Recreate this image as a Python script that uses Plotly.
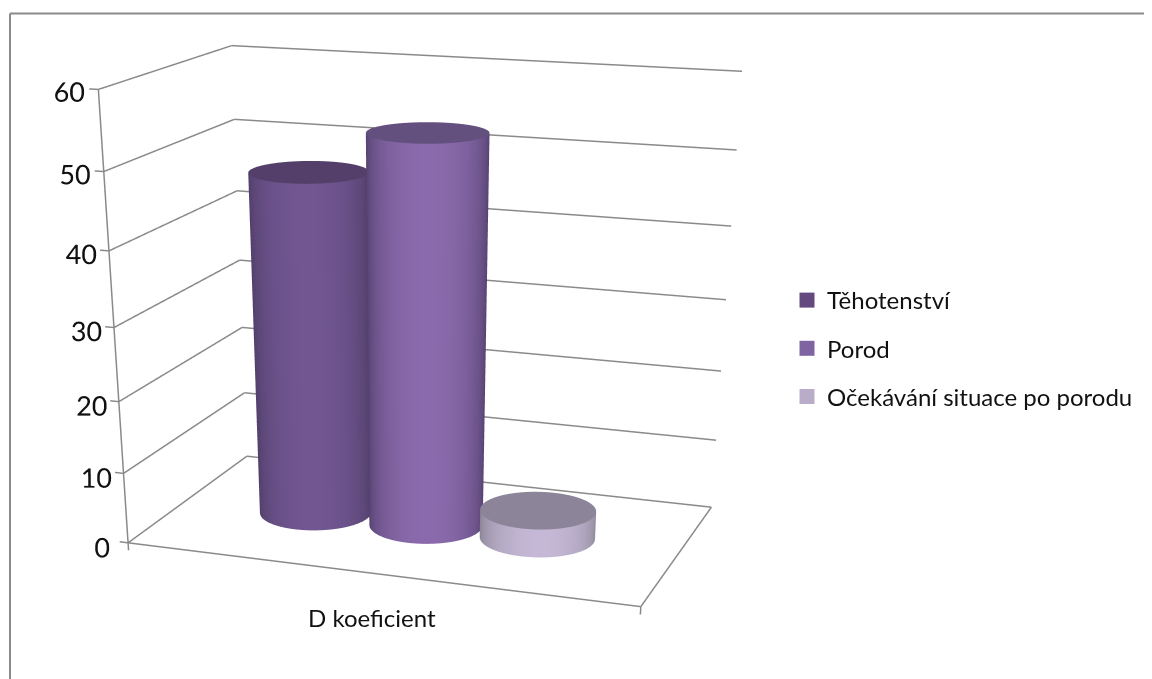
import numpy as np
import plotly.graph_objects as go

series = ["Těhotenství", "Porod", "Očekávání situace po porodu"]
values = [47.5, 53.5, 4]
slots = [1.08, 2, 2.9]
category = "D koeficient"
z_ticks = [0, 10, 20, 30, 40, 50, 60]
legend_colors = ["#65497E", "#8064A2", "#B9ACC9"]
edge_colors = ["#4A3A62", "#4E3C68", "#85808F"]
mid_colors = ["#715691", "#8A6AAC", "#C4B8D6"]
cap_colors = ["#533F69", "#63507F", "#8C8498"]

GRAY = "#8A8A8A"
FIG_W, FIG_H = 1144, 1800
SCENE_W = 800
XMAX, ZMAX = 4.0, 60.0
XPAD, XPAD2, ZPAD, ZPAD2 = 0.14, 0.02, 1.1, 0.5
TICK = 0.07
AY, AZ = 0.5735, 0.815
eye0 = np.array([1.3133, -3.8309, 0.9927])
cen0 = np.array([0.1451, -0.5169, -0.9615])
box_shift = np.array([(XPAD2 - XPAD) / 2 / XMAX, 0.0, (ZPAD2 - ZPAD) / 2 / ZMAX * AZ])
eye = eye0 - box_shift
cen = cen0 - box_shift
RX = 0.44
RY = RX / XMAX / AY

fig = go.Figure()
seg_x, seg_y, seg_z = [], [], []
def seg(a, b):
    seg_x.extend([a[0], b[0], None]); seg_y.extend([a[1], b[1], None]); seg_z.extend([a[2], b[2], None])
for z in z_ticks:
    seg((0, 0, z), (0, 1, z))
    seg((0, 1, z), (XMAX, 1, z))
    seg((-TICK, 0, z), (0, 0, z))
seg((0, 0, 0), (0, 0, ZMAX))
seg((0, 0, 0), (XMAX, 0, 0))
seg((XMAX, 0, 0), (XMAX, 1, 0))
seg((0, 0, -ZPAD), (0, 0, 0))
seg((XMAX, 0, -ZPAD), (XMAX, 0, 0))
fig.add_trace(go.Scatter3d(x=seg_x, y=seg_y, z=seg_z, mode="lines", showlegend=False, hoverinfo="skip",
                           line=dict(color=GRAY, width=3)))

th = np.linspace(0, 2 * np.pi, 121)
th0 = np.arctan2(eye0[1] - cen0[1], eye0[0] - cen0[0])
flat = dict(ambient=1, diffuse=0, specular=0, fresnel=0, roughness=1)
for name, s, v, e, m, c, lc in zip(series, slots, values, edge_colors, mid_colors, cap_colors, legend_colors):
    xs = s + RX * np.cos(th)
    ys = 0.5 + RY * np.sin(th)
    t = np.clip(np.cos(th - th0), 0, 1)
    fig.add_trace(go.Surface(
        x=np.vstack([xs, xs]), y=np.vstack([ys, ys]), z=np.vstack([0 * th, 0 * th + v]),
        surfacecolor=np.vstack([t, t]), cmin=0, cmax=1,
        colorscale=[[0, e], [1, m]], showscale=False, hoverinfo="skip", lighting=flat))
    fig.add_trace(go.Surface(
        x=np.vstack([0 * th + s, xs]), y=np.vstack([0 * th + 0.5, ys]), z=np.vstack([0 * th + v, 0 * th + v]),
        surfacecolor=np.zeros((2, th.size)), cmin=0, cmax=1,
        colorscale=[[0, c], [1, c]], showscale=False, hoverinfo="skip", lighting=flat))
    fig.add_trace(go.Scatter3d(
        x=[s], y=[0.5], z=[v / 2], mode="markers", name=name, legendgroup=name,
        marker=dict(size=15, symbol="square", color=lc), hoverinfo="skip"))

common = dict(showbackground=False, showspikes=False, title="", zeroline=False, showgrid=False, showline=False, ticks="")
fig.update_layout(
    margin=dict(l=0, r=0, t=0, b=0), paper_bgcolor="white", width=FIG_W, height=FIG_H,
    font=dict(family="Lato", size=24, color="#111111"),
    scene=dict(
        domain=dict(x=[0, SCENE_W / FIG_W], y=[0, 1]),
        aspectmode="manual",
        aspectratio=dict(x=(XMAX + XPAD + XPAD2) / XMAX, y=AY, z=AZ * (ZMAX + ZPAD + ZPAD2) / ZMAX),
        camera=dict(eye=dict(x=eye[0], y=eye[1], z=eye[2]), center=dict(x=cen[0], y=cen[1], z=cen[2]),
                    up=dict(x=0, y=0, z=1), projection=dict(type="perspective")),
        xaxis=dict(range=[-XPAD, XMAX + XPAD2], showticklabels=False, **common),
        yaxis=dict(range=[0, 1], showticklabels=False, **common),
        zaxis=dict(range=[-ZPAD, ZMAX + ZPAD2], tickvals=z_ticks, tickangle=0,
                   tickfont=dict(family="Lato", size=18, color="#111111"), **common),
        annotations=[dict(x=XMAX / 2, y=0, z=0, text=category, showarrow=False, yshift=-44, xshift=-3,
                          font=dict(family="Lato", size=24, color="#111111"))],
    ),
    legend=dict(x=779 / FIG_W, y=1 - 270 / FIG_H, xanchor="left", yanchor="top", tracegroupgap=14,
                font=dict(family="Lato", size=24, color="#111111"), bgcolor="rgba(0,0,0,0)", itemclick=False),
    shapes=[dict(type="line", xref="paper", yref="paper", x0=2 / FIG_W, x1=1, y0=1 - 5.5 / FIG_H, y1=1 - 5.5 / FIG_H,
                 line=dict(color=GRAY, width=2)),
            dict(type="line", xref="paper", yref="paper", x0=2 / FIG_W, x1=2 / FIG_W, y0=1 - 5.5 / FIG_H, y1=1 - 700 / FIG_H,
                 line=dict(color=GRAY, width=2))],
)
fig.write_html("out.html")
